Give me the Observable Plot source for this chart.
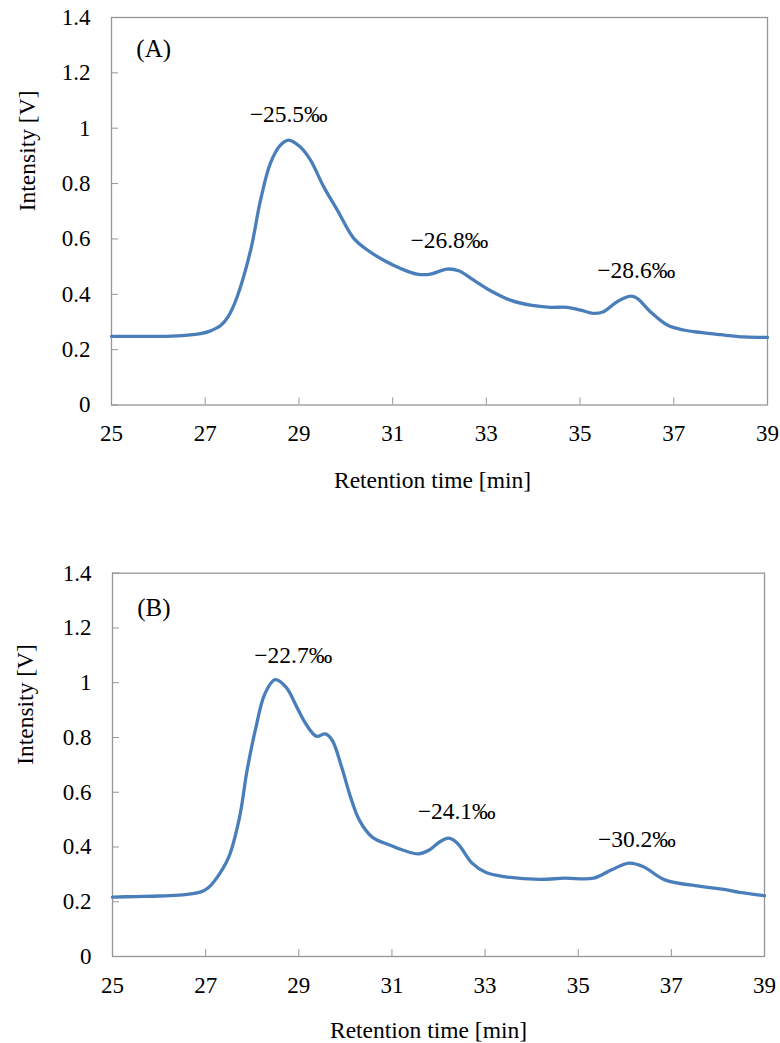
<!DOCTYPE html>
<html>
<head>
<meta charset="utf-8">
<script src="https://cdn.jsdelivr.net/npm/d3@7"></script>
<script src="https://cdn.jsdelivr.net/npm/@observablehq/plot@0.6"></script>
<style>
  html, body { margin: 0; padding: 0; background: #fff; }
  #chart svg { display: block; }
  #chart svg, #chart svg text, #chart svg g { font-family: "Liberation Serif", Tinos, "Times New Roman", "DejaVu Serif", serif !important; }
</style>
</head>
<body>
<div id="chart"></div>
<script>
// ---- data ----
const timeA = [25, 25.5, 26, 26.5, 26.9, 27.1, 27.33, 27.5, 27.68, 27.97, 28.18, 28.39, 28.6, 28.78, 29.03, 29.25, 29.53, 29.82, 30.17, 30.46, 30.81, 31.17, 31.52, 31.81, 32.16, 32.41, 32.73, 33.09, 33.51, 33.94, 34.37, 34.72, 35.01, 35.29, 35.5, 35.79, 36.08, 36.22, 36.5, 36.86, 37.21, 37.57, 38.0, 38.5, 39];
const intensityA = [0.248, 0.248, 0.248, 0.251, 0.258, 0.267, 0.287, 0.322, 0.39, 0.56, 0.74, 0.873, 0.938, 0.957, 0.932, 0.884, 0.788, 0.704, 0.602, 0.56, 0.523, 0.493, 0.473, 0.473, 0.491, 0.485, 0.451, 0.413, 0.379, 0.361, 0.353, 0.353, 0.343, 0.331, 0.337, 0.373, 0.393, 0.385, 0.337, 0.289, 0.271, 0.262, 0.254, 0.246, 0.244];

const timeB = [25, 25.5, 26, 26.5, 26.9, 27.05, 27.2, 27.5, 27.73, 27.89, 28.08, 28.27, 28.49, 28.73, 28.96, 29.15, 29.38, 29.57, 29.72, 29.92, 30.11, 30.3, 30.57, 30.95, 31.26, 31.57, 31.8, 32.03, 32.22, 32.41, 32.72, 33.02, 33.41, 34.17, 34.71, 35.33, 35.71, 36.09, 36.4, 36.86, 37.63, 38.09, 38.55, 39];
const intensityB = [0.217, 0.219, 0.221, 0.225, 0.236, 0.25, 0.278, 0.365, 0.51, 0.68, 0.837, 0.959, 1.011, 0.983, 0.91, 0.85, 0.804, 0.813, 0.789, 0.692, 0.583, 0.498, 0.437, 0.407, 0.387, 0.375, 0.389, 0.419, 0.432, 0.413, 0.341, 0.307, 0.292, 0.282, 0.286, 0.286, 0.316, 0.341, 0.328, 0.28, 0.256, 0.246, 0.232, 0.222];

const peakLabelsA = ["\u221225.5\u2030", "\u221226.8\u2030", "\u221228.6\u2030"];
const peakTimesA = [28.78, 32.21, 36.2];
const peakYA = [1.048, 0.596, 0.486];

const peakLabelsB = ["\u221222.7\u2030", "\u221224.1\u2030", "\u221230.2\u2030"];
const peakTimesB = [28.88, 32.39, 36.26];
const peakYB = [1.099, 0.531, 0.429];

const panelLabels = ["(A)", "(B)"];
const panelLabelX = [25.9, 25.89];
const panelLabelY = [1.288, 1.273];

const xTicks = [25, 27, 29, 31, 33, 35, 37, 39];
const yTicks = [0, 0.2, 0.4, 0.6, 0.8, 1, 1.2, 1.4];
const xTitle = "Retention time [min]";
const yTitle = "Intensity [V]";

// ---- drawing ----
const FONT = "Liberation Serif, Tinos, Times New Roman, DejaVu Serif, serif";
const LINE = "#4a7ebb";
const GRAY = "#969696";

function panel(opts) {
  const {times, values, labels, lx, ly, idx, height, mt, mb, ml, mr, ytDx, xtDy, xtDx} = opts;
  const rows = times.map((t, i) => ({t, v: values[i]}));
  const ann = labels.map((s, i) => ({s, x: lx[i], y: ly[i]}));
  const plotW = 780 - ml - mr;
  const plotH = height - mt - mb;
  const svg = Plot.plot({
    width: 780,
    height,
    marginTop: mt,
    marginBottom: mb,
    marginLeft: ml,
    marginRight: mr,
    style: {fontSize: "23px", color: "#000", background: "#fff", overflow: "visible"},
    x: {domain: [25, 39], ticks: xTicks, tickFormat: d => String(d), tickSize: 0, tickPadding: 20, label: null},
    y: {domain: [0, 1.4], ticks: yTicks, tickFormat: d => String(d), tickSize: 0, tickPadding: 21, label: null},
    marks: [
      Plot.tickY(yTicks, {y: d => d, stroke: GRAY, insetRight: plotW - 7}),
      Plot.tickX(xTicks, {x: d => d, stroke: GRAY, insetTop: plotH - 7}),
      Plot.frame({stroke: GRAY, strokeWidth: 1.3}),
      Plot.line(rows, {x: "t", y: "v", stroke: LINE, strokeWidth: 3.3, curve: "catmull-rom"}),
      Plot.text(ann, {x: "x", y: "y", text: "s", fill: "#000", fontSize: 23.5, fontFamily: FONT}),
      Plot.text([panelLabels[idx]], {x: panelLabelX[idx], y: panelLabelY[idx], text: d => d, fill: "#000", fontSize: 25, fontFamily: FONT}),
      Plot.text([xTitle], {frameAnchor: "bottom", dy: xtDy, dx: xtDx, text: d => d, fill: "#000", fontSize: 23.5, fontFamily: FONT}),
      Plot.text([yTitle], {frameAnchor: "left", dx: ytDx, rotate: -90, text: d => d, fill: "#000", fontSize: 23.5, fontFamily: FONT})
    ]
  });
  svg.querySelectorAll("g[aria-label$='tick label']").forEach(g => {
    g.setAttribute("font-family", FONT);
    g.setAttribute("font-size", "23");
  });
  return svg;
}

const chart = document.getElementById("chart");
chart.appendChild(panel({
  times: timeA, values: intensityA, labels: peakLabelsA, lx: peakTimesA, ly: peakYA, idx: 0,
  height: 510, mt: 17, mb: 105.5, ml: 111, mr: 13, ytDx: -84, xtDy: 83, xtDx: -7
}));
chart.appendChild(panel({
  times: timeB, values: intensityB, labels: peakLabelsB, lx: peakTimesB, ly: peakYB, idx: 1,
  height: 533, mt: 62.7, mb: 87, ml: 112, mr: 16, ytDx: -87, xtDy: 81, xtDx: -10
}));
</script>
</body>
</html>
